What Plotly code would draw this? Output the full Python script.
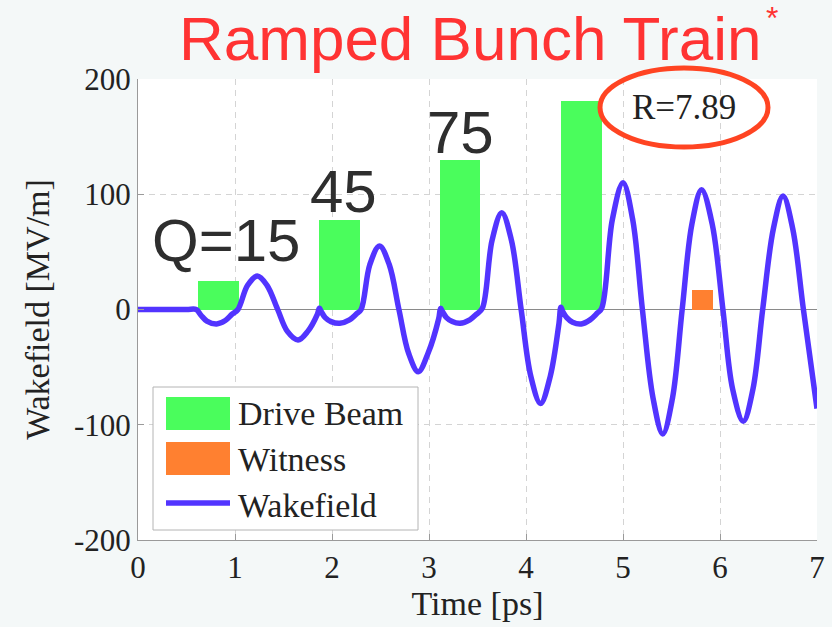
import plotly.graph_objects as go

# Drive bunches (flat-top current profiles drawn as bars)
drive_center = [0.83, 2.08, 3.32, 4.57]
drive_height = [25, 78, 130, 181]
drive_width = 0.42
drive_labels = ["Q=15", "45", "75", ""]

# Witness bunch
witness_center = [5.82]
witness_height = [17]
witness_width = 0.22

# Wakefield on axis [MV/m] vs time [ps]
wake_t = [0.00, 0.50, 0.60, 0.65, 0.71, 0.81, 0.90, 0.97, 1.03,
          1.13, 1.23, 1.33, 1.44, 1.54, 1.65, 1.75, 1.85, 1.87, 1.89,
          1.93, 1.99, 2.08, 2.18, 2.25, 2.30,
          2.39, 2.49, 2.59, 2.69, 2.79, 2.89, 2.99, 3.10, 3.12, 3.14,
          3.18, 3.24, 3.32, 3.42, 3.49, 3.55,
          3.65, 3.75, 3.85, 3.95, 4.05, 4.15, 4.25, 4.34, 4.36, 4.38,
          4.42, 4.48, 4.57, 4.66, 4.73, 4.78,
          4.89, 5.00, 5.10, 5.20, 5.31, 5.41, 5.51, 5.61, 5.71, 5.81,
          5.92, 6.03, 6.13, 6.24, 6.34, 6.44, 6.55, 6.65, 6.75, 6.86, 7.00]
wake_e = [0, 0, 0, -5, -10, -12.5, -9.5, -4, 0,
          21, 29, 21, 0, -19, -26.5, -19, -4, 1, -2,
          -7, -10.5, -12, -9, -4, 0,
          39, 55, 39, 0, -38, -54, -38, -8, 1, -2,
          -7, -10.5, -12, -9, -4, 1,
          60, 84, 60, 0, -58, -81.5, -58, -12, 2, -2,
          -7, -11, -12.5, -9, -3.5, 1,
          78, 110, 78, 0, -77, -108, -77, 0, 74, 104,
          74, 0, -69, -97, -69, 0, 70, 98.5, 70, 0, -86]

x_ticks = [0, 1, 2, 3, 4, 5, 6, 7]
x_tick_text = ["0", "1", "2", "3", "4", "5", "6", "7"]
y_ticks = [-200, -100, 0, 100, 200]
y_tick_text = ["-200", "-100", "0", "100", "200"]
ratio_text = "R=7.89"

GREEN = "#4AFD5C"
ORANGE = "#FF8030"
BLUE = "#5234FF"
SERIF = "Liberation Serif"
SANS = "Liberation Sans"

W, H = 832, 627
L, R, T, B = 138, 15, 79, 87
PW, PH = W - L - R, H - T - B


def px(x):
    return (x - L) / PW


def py(y):
    return (H - B - y) / PH


fig = go.Figure()
fig.add_trace(go.Bar(x=drive_center, y=drive_height, width=drive_width,
                     marker=dict(color=GREEN, line=dict(width=0)),
                     name="Drive Beam", showlegend=False))
fig.add_trace(go.Bar(x=witness_center, y=witness_height, width=witness_width,
                     marker=dict(color=ORANGE, line=dict(width=0)),
                     name="Witness", showlegend=False))
fig.add_trace(go.Scatter(x=wake_t, y=wake_e, mode="lines", name="Wakefield",
                         line=dict(color=BLUE, width=5.5, shape="spline", smoothing=1.0),
                         showlegend=False))

# charge labels above the drive bunches
shifts = [(7, 5), (4, -7), (0, -8), (0, 0)]
for c, h, lab, (dx, dy) in zip(drive_center, drive_height, drive_labels, shifts):
    if lab:
        fig.add_annotation(x=c, y=h, text=lab, showarrow=False, xanchor="center",
                           yanchor="bottom", xshift=dx, yshift=dy,
                           font=dict(family=SANS, size=60, color="#2e2e2e"))

# title with a small footnote mark
fig.add_annotation(xref="paper", yref="paper", x=px(177), y=py(38),
                   text="Ramped Bunch Train", showarrow=False,
                   xanchor="left", yanchor="middle",
                   font=dict(family=SANS, size=62, color="#FF3333"))
fig.add_annotation(xref="paper", yref="paper", x=px(764), y=py(18),
                   text="*", showarrow=False, xanchor="left", yanchor="middle",
                   font=dict(family=SANS, size=32, color="#FF3333"))

# transformer ratio callout
fig.add_shape(type="circle", xref="paper", yref="paper",
              x0=px(600), x1=px(768), y0=py(147), y1=py(68),
              line=dict(color="#FF4422", width=5))
fig.add_annotation(xref="paper", yref="paper", x=px(684), y=py(107),
                   text=ratio_text, showarrow=False, xanchor="center", yanchor="middle",
                   font=dict(family=SERIF, size=35, color="#222222"))

# legend box
fig.add_shape(type="rect", xref="paper", yref="paper",
              x0=px(153), x1=px(418), y0=py(530), y1=py(387),
              fillcolor="white", line=dict(color="#b4b4b4", width=1), layer="above")
fig.add_shape(type="rect", xref="paper", yref="paper",
              x0=px(166), x1=px(230), y0=py(430), y1=py(397),
              fillcolor=GREEN, line=dict(width=0), layer="above")
fig.add_shape(type="rect", xref="paper", yref="paper",
              x0=px(166), x1=px(230), y0=py(475), y1=py(442),
              fillcolor=ORANGE, line=dict(width=0), layer="above")
fig.add_shape(type="line", xref="paper", yref="paper",
              x0=px(166), x1=px(230), y0=py(503), y1=py(503),
              line=dict(color=BLUE, width=5.5), layer="above")
for name, yc in zip(["Drive Beam", "Witness", "Wakefield"], [413, 459, 505]):
    fig.add_annotation(xref="paper", yref="paper", x=px(236), y=py(yc), text=name,
                       showarrow=False, xanchor="left", yanchor="middle",
                       font=dict(family=SERIF, size=34, color="#222222"))

axis_common = dict(showgrid=True, gridcolor="#d4d4d4", griddash="6px,5px", gridwidth=1,
                   showline=True, linecolor="#9a9a9a", linewidth=1,
                   ticks="inside", ticklen=6, tickcolor="#9a9a9a",
                   tickfont=dict(family=SERIF, size=31, color="#222222"))

fig.update_layout(
    width=W, height=H,
    margin=dict(l=L, r=R, t=T, b=B, autoexpand=False),
    paper_bgcolor="#f4f8f8", plot_bgcolor="white",
    barmode="overlay", bargap=0,
    xaxis=dict(range=[0, 7], tickvals=x_ticks, ticktext=x_tick_text, zeroline=False,
               title=dict(text="Time [ps]", font=dict(family=SERIF, size=34, color="#222222"),
                          standoff=2),
               **axis_common),
    yaxis=dict(range=[-200, 200], tickvals=y_ticks, ticktext=y_tick_text, zeroline=True,
               zerolinecolor="#8a8a8a", zerolinewidth=1,
               title=dict(text="Wakefield [MV/m]", font=dict(family=SERIF, size=34, color="#222222"),
                          standoff=14),
               **axis_common),
)

fig.write_html("out.html")
